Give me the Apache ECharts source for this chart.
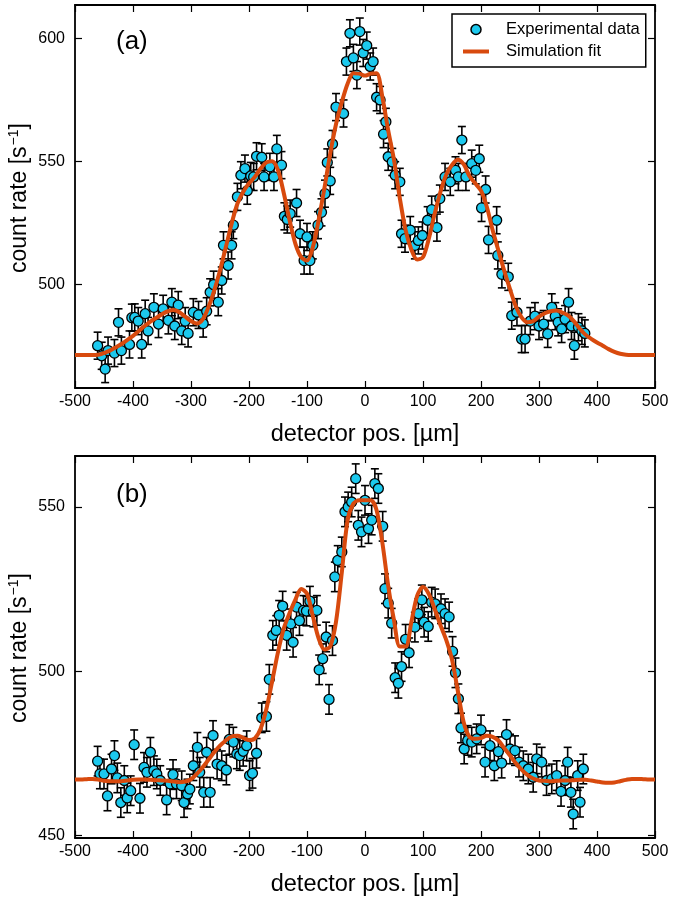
<!DOCTYPE html>
<html><head><meta charset="utf-8">
<script src="https://cdn.jsdelivr.net/npm/echarts@6/dist/echarts.min.js"></script>
<style>html,body{margin:0;padding:0;background:#fff}#c{width:675px;height:900px}</style>
</head><body><div id="c"></div>
<script>
// ---- tick labels ----
const xTicks = [-500,-400,-300,-200,-100,0,100,200,300,400,500];
const yTicksA = [500,550,600];
const yTicksB = [450,500,550];

// ---- panel (a): experimental data ----
const posA = [-461,-454,-448,-443,-432,-425,-420,-406,-402,-397,-391,-385,-379,-374,-364,-356,-348,-339,-333,-328,-322,-316,-310,-305,-296,-287,-279,-273,-267,-261,-253,-247,-244,-236,-230,-227,-220,-214,-207,-203,-197,-192,-187,-178,-174,-164,-157,-152,-144,-139,-134,-129,-118,-112,-105,-100,-95,-90,-81,-75,-69,-65,-60,-56,-50,-37,-32,-26,-20,-14,-9,-3,3,9,14,20,26,32,36,40,47,52,60,63,69,78,86,92,99,108,115,124,129,138,147,156,161,167,174,184,191,197,201,208,213,227,229,236,247,253,262,270,276,285,293,300,308,315,322,328,333,339,345,351,356,361,368,374,379];
const rateA = [475,470.9,465.5,473,472,484.5,473,475.5,486.4,486.5,485,475.5,488,481,490.6,483.8,490,485.3,492.7,483,491.5,481,485,480,488.6,487.5,484,489,496.7,499.8,492.7,501.5,515.8,507.6,515.8,524,535.5,544.3,547,538,544,543.6,552,551.6,543.6,547.7,543.6,555,548.4,527.6,526.3,528.7,533,520.5,509.6,519.2,509.6,515.8,524,529.2,536.8,549.5,542,557,572,569.4,590.5,602,592,585,602.7,594,597,588.5,590.5,576,574.9,561,566,551.8,549.7,544.3,541.6,520.5,518.5,522,515.8,517.8,519.8,526,530.3,523,534.8,543.6,541.6,546.3,543.6,558.6,543.6,549,546.3,551,531,538.5,518,526,511.7,504,503,487.2,488.6,477.7,477.7,485,487,483,483.8,479.8,490.6,487,484.5,481.8,485.8,492.7,483,475,482.5,481,480];
const errA = 5.5;

// ---- panel (b): experimental data ----
const posB = [-461,-457,-450,-444,-437,-432,-427,-421,-415,-410,-404,-398,-388,-381,-376,-370,-364,-359,-353,-342,-336,-331,-325,-316,-312,-306,-302,-296,-289,-285,-278,-273,-267,-262,-255,-247,-239,-234,-227,-221,-216,-210,-204,-199,-194,-187,-178,-170,-165,-159,-153,-148,-142,-135,-128,-124,-118,-113,-106,-101,-95,-89,-83,-79,-73,-67,-62,-56,-52,-47,-40,-34.5,-29,-23,-16,-11.5,-6,0,6,11.5,17,23,30.5,34.5,40,46,52,57.5,63,70,76,86,92,98,102,109,115,121,131,138,145,151,156,161,165.5,171,177,184,192.5,200,207,215.5,223,230,235.6,244,250,258.6,265.5,273,281.6,290,296,304.6,313,322,330.5,338,345,349.4,355,359,366.7,370.7,376.4];
const rateB = [472.6,468.7,468.7,462,470.2,474.3,467.5,460,466.7,461.4,463.6,477.6,461.3,470.7,469.2,475.3,469.7,468.7,466.7,460.8,465.7,468.5,465.7,465.1,460,462.6,464.1,471.2,476.8,469.2,463.1,475.3,463.1,480.4,471.7,471.2,469.9,479.2,478.4,474.8,474.3,475.6,477.3,468.2,468.9,475,485.8,486.2,497.5,510.9,512.4,517,519.8,510.9,514.4,508.8,519.5,515.4,518.5,518.3,521.3,518,518.5,500.4,503.8,510.4,491.4,509.3,528.7,533.7,536.3,548.5,550,551.5,558.6,544.4,542.4,552,543.4,546,557.1,555.6,544.1,525.1,520.7,514.6,498,496.3,501.4,509.7,505.6,513.4,517.5,521.7,514.9,513.6,521,520.5,519,517.5,516.5,506,499.5,491.6,482.7,476.3,478.9,478.4,479.4,482.1,472.3,477.3,471.2,475.5,472,480.7,476.3,475.8,472.3,471.2,470.2,467.7,473.3,472.3,466.7,467.2,468.2,463.4,466.7,472.3,463.1,456.5,468.2,460.1,470.2];
const errB = 4.5;

// ---- simulation fits ----
const fitPos = [-500,-490,-480,-470,-460,-450,-440,-430,-420,-410,-400,-390,-380,-370,-360,-350,-340,-330,-320,-310,-300,-290,-280,-270,-260,-250,-240,-230,-220,-210,-200,-190,-180,-170,-160,-150,-140,-130,-120,-110,-100,-90,-80,-70,-60,-50,-40,-30,-20,-10,0,10,20,30,40,50,60,70,80,90,100,110,120,130,140,150,160,170,180,190,200,210,220,230,240,250,260,270,280,290,300,310,320,330,340,350,360,370,380,390,400,410,420,430,440,450,460,470,480,490,500];
const fitA = [471.2,471.2,471.2,471.2,471.3,472,473,474.3,475.7,477.3,479,481,483,484.8,486.3,487.8,489,489.5,488.6,486.8,485,484,485.6,490.6,497.4,505.6,515,524.6,532.7,537.5,541,543.6,547,549.5,550,546.3,537,526,516.4,511,509.6,515,526,539,553,565,574,581.5,585.8,585.6,584.8,585.6,585.8,576,562.5,550.5,535,522,514,510,511,518.5,528.5,537.5,544.5,548.5,550.6,548.8,544,541,538,531.5,522,513.7,505.5,498,491,486.5,484.5,485,486.8,488.2,489,489.3,488.5,487.3,485,482,479.5,477.8,476.3,475,473.6,472.5,471.7,471.3,471.2,471.2,471.2,471.2,471.2];
const fitB = [467,467,467.1,467.2,467,466.6,466.5,466.5,466.5,466.7,466.9,467,467,466.9,466.8,466.7,466.6,466.4,466.2,466.4,467.1,468.7,470.7,473,475.3,477.3,478.9,480.1,480.3,479.7,479,479.5,482.5,488.5,497,505.8,513,517.7,521.8,525,523.6,516.8,510,506.6,507.5,515,530,546,551,552,552,552,549,539,526,515.5,507.5,507.5,515,523,525.6,523.5,519,514,509.5,503.5,494,484.5,480,479.4,479.6,480.3,480,478.9,476.6,474.3,472,470,468.4,467.3,466.7,466.6,466.5,466.6,466.7,466.7,466.8,466.9,466.9,466.7,466.4,466.1,466,466.1,466.5,466.9,467.2,467.2,467.1,467,467];

// ---- styling ----
const FONT = '"Liberation Sans", Arial, Helvetica, sans-serif';
const DOT = '#1cc9ee';
const FIT = '#d84a0e';

const chart = echarts.init(document.getElementById('c'), null, {renderer: 'canvas'});

function errRender(params, api) {
  const x = api.value(0), y = api.value(1), e = api.value(2);
  const t = api.coord([x, y + e]);
  const b = api.coord([x, y - e]);
  const hw = 4;
  const st = {stroke: '#000', lineWidth: 1.6};
  return {type: 'group', children: [
    {type: 'line', shape: {x1: t[0], y1: t[1], x2: b[0], y2: b[1]}, style: st},
    {type: 'line', shape: {x1: t[0] - hw, y1: t[1], x2: t[0] + hw, y2: t[1]}, style: st},
    {type: 'line', shape: {x1: b[0] - hw, y1: b[1], x2: b[0] + hw, y2: b[1]}, style: st}
  ]};
}

function xAxisDef(grid, pos, withLabel) {
  return {
    type: 'value', gridIndex: grid, position: pos, min: -500, max: 500, interval: 100,
    axisLine: {show: true, onZero: false, lineStyle: {color: '#000', width: 1.8}},
    axisTick: {show: true, inside: true, length: 7, lineStyle: {color: '#000', width: 1.2}},
    axisLabel: {show: withLabel, color: '#000', fontSize: 16, fontFamily: FONT, margin: 6,
      customValues: xTicks},
    splitLine: {show: false},
    name: withLabel ? 'detector pos. [µm]' : '',
    nameLocation: 'middle', nameGap: 35,
    nameTextStyle: {color: '#000', fontSize: 23.5, fontFamily: FONT}
  };
}
function yAxisDef(grid, pos, withLabel, mn, mx, ticks) {
  return {
    type: 'value', gridIndex: grid, position: pos, min: mn, max: mx,
    axisLine: {show: true, onZero: false, lineStyle: {color: '#000', width: 1.8}},
    axisTick: {show: true, inside: true, length: 7, lineStyle: {color: '#000', width: 1.2}, customValues: ticks},
    axisLabel: {show: withLabel, color: '#000', fontSize: 16, fontFamily: FONT, margin: 10, customValues: ticks},
    splitLine: {show: false}
  };
}
function yTitle(cy) {
  return {
    type: 'text', x: 20, y: cy, rotation: Math.PI / 2,
    style: {
      text: '{t|count rate [s}{s|\u22121}{t|]}',
      align: 'center', verticalAlign: 'middle',
      rich: {
        t: {fontSize: 23, fontFamily: FONT, fill: '#000'},
        s: {fontSize: 14, fontFamily: FONT, fill: '#000', padding: [0, 0, 12, 1]}
      }
    }
  };
}

const option = {
  backgroundColor: '#fff',
  animation: false,
  grid: [
    {left: 75, top: 5, width: 580, height: 383, containLabel: false, outerBoundsMode: 'none'},
    {left: 75, top: 456, width: 580, height: 382, containLabel: false, outerBoundsMode: 'none'}
  ],
  xAxis: [
    xAxisDef(0, 'bottom', true), xAxisDef(0, 'top', false),
    xAxisDef(1, 'bottom', true), xAxisDef(1, 'top', false)
  ],
  yAxis: [
    yAxisDef(0, 'left', true, 457.8, 613.5, yTicksA), yAxisDef(0, 'right', false, 457.8, 613.5, yTicksA),
    yAxisDef(1, 'left', true, 449.2, 565.5, yTicksB), yAxisDef(1, 'right', false, 449.2, 565.5, yTicksB)
  ],
  legend: {
    left: 452, top: 14, orient: 'vertical',
    backgroundColor: '#fff', borderColor: '#000', borderWidth: 1.5, borderRadius: 0,
    padding: [7, 6, 7, 11], itemGap: 5, itemWidth: 26, itemHeight: 10,
    textStyle: {color: '#000', fontSize: 16.6, fontFamily: FONT, lineHeight: 17, padding: [0, 0, 0, 12]},
    selectedMode: false,
    data: [
      {name: 'Experimental data', icon: 'circle', itemStyle: {color: DOT, borderColor: '#000', borderWidth: 1.5}},
      {name: 'Simulation fit', icon: 'path://M0,0H26V4H0Z', itemStyle: {color: FIT, borderWidth: 0}}
    ]
  },
  graphic: [
    {type: 'text', left: 116, top: 29, style: {text: '(a)', font: '26px ' + FONT, fill: '#000'}},
    {type: 'text', left: 116, top: 482, style: {text: '(b)', font: '26px ' + FONT, fill: '#000'}},
    yTitle(198),
    yTitle(648)
  ],
  series: [
    {type: 'custom', name: 'err a', xAxisIndex: 0, yAxisIndex: 0, renderItem: errRender,
      encode: {x: 0, y: 1}, z: 2, clip: true,
      data: posA.map((x, i) => [x, rateA[i], errA])},
    {type: 'scatter', name: 'Experimental data', xAxisIndex: 0, yAxisIndex: 0, z: 3,
      symbol: 'circle', symbolSize: 10,
      itemStyle: {color: DOT, borderColor: '#000', borderWidth: 1.3, opacity: 1},
      data: posA.map((x, i) => [x, rateA[i]])},
    {type: 'line', name: 'Simulation fit', xAxisIndex: 0, yAxisIndex: 0, z: 4,
      smooth: 0.3, symbol: 'none', showSymbol: false, lineStyle: {color: FIT, width: 4}, itemStyle: {color: FIT},
      data: fitPos.map((x, i) => [x, fitA[i]])},
    {type: 'custom', name: 'err b', xAxisIndex: 2, yAxisIndex: 2, renderItem: errRender,
      encode: {x: 0, y: 1}, z: 2, clip: true,
      data: posB.map((x, i) => [x, rateB[i], errB])},
    {type: 'scatter', name: 'Experimental data (b)', xAxisIndex: 2, yAxisIndex: 2, z: 3,
      symbol: 'circle', symbolSize: 10,
      itemStyle: {color: DOT, borderColor: '#000', borderWidth: 1.3, opacity: 1},
      data: posB.map((x, i) => [x, rateB[i]])},
    {type: 'line', name: 'Simulation fit (b)', xAxisIndex: 2, yAxisIndex: 2, z: 4,
      smooth: 0.3, symbol: 'none', showSymbol: false, lineStyle: {color: FIT, width: 4}, itemStyle: {color: FIT},
      data: fitPos.map((x, i) => [x, fitB[i]])}
  ]
};
chart.setOption(option);
</script>
</body></html>
